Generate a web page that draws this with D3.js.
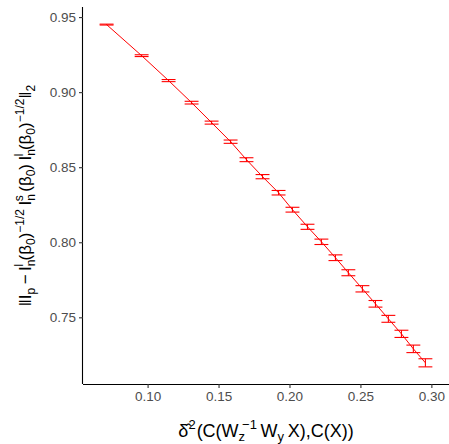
<!DOCTYPE html>
<html><head><meta charset="utf-8">
<script src="https://cdn.jsdelivr.net/npm/d3@7"></script>
<style>body{margin:0;background:#fff}svg{display:block;font-family:"Liberation Sans",Arial,sans-serif}</style>
</head><body><svg id="c" width="449" height="444"></svg>
<script>
const xValues = [0.0711,0.0958,0.1148,0.1310,0.1451,0.1585,0.1697,0.1810,0.1923,0.2021,0.2127,0.2225,0.2324,0.2415,0.2514,0.2606,0.2697,0.2789,0.2873,0.2958];
const yValues = [0.9450,0.9243,0.9077,0.8930,0.8797,0.8670,0.8550,0.8437,0.8330,0.8217,0.8103,0.8003,0.7897,0.7797,0.7690,0.7590,0.7490,0.7390,0.7290,0.7197];
const yErr = [0.0003,0.0006,0.0007,0.0009,0.0010,0.0011,0.0013,0.0014,0.0015,0.0016,0.0017,0.0018,0.0019,0.0020,0.0021,0.0022,0.0023,0.0024,0.0025,0.0027];
const xTicks = [0.10,0.15,0.20,0.25,0.30];
const yTicks = [0.75,0.80,0.85,0.90,0.95];

const data = xValues.map((x,i)=>({x, y:yValues[i], e:yErr[i]}));
const capHalf = 0.0049;
const svg = d3.select("#c");
const L=83, R=449, T=7, B=384;

const xmin = d3.min(data,d=>d.x-capHalf), xmax = d3.max(data,d=>d.x+capHalf);
const ymin = d3.min(data,d=>d.y-d.e), ymax = d3.max(data,d=>d.y+d.e);
const xs = d3.scaleLinear().domain([xmin-(xmax-xmin)*0.05, xmax+(xmax-xmin)*0.05]).range([L,R]);
const ys = d3.scaleLinear().domain([ymin-(ymax-ymin)*0.05, ymax+(ymax-ymin)*0.05]).range([B,T]);

const g = svg.append("g");
g.append("path").datum(data)
 .attr("d", d3.line().x(d=>xs(d.x)).y(d=>ys(d.y)))
 .attr("fill","none").attr("stroke","#ff0000").attr("stroke-width",1);
const eb = g.selectAll(".eb").data(data).enter().append("g").attr("stroke","#ff0000").attr("stroke-width",1.1);
eb.append("line").attr("x1",d=>xs(d.x)).attr("x2",d=>xs(d.x)).attr("y1",d=>ys(d.y-d.e)).attr("y2",d=>ys(d.y+d.e));
eb.append("line").attr("x1",d=>xs(d.x-capHalf)).attr("x2",d=>xs(d.x+capHalf)).attr("y1",d=>ys(d.y-d.e)).attr("y2",d=>ys(d.y-d.e));
eb.append("line").attr("x1",d=>xs(d.x-capHalf)).attr("x2",d=>xs(d.x+capHalf)).attr("y1",d=>ys(d.y+d.e)).attr("y2",d=>ys(d.y+d.e));

const xAxis = svg.append("g").attr("transform",`translate(0,${B})`)
 .call(d3.axisBottom(xs).tickValues(xTicks).tickFormat(d3.format(".2f")).tickSizeOuter(0).tickSize(4).tickPadding(3));
const yAxis = svg.append("g").attr("transform",`translate(${L},0)`)
 .call(d3.axisLeft(ys).tickValues(yTicks).tickFormat(d3.format(".2f")).tickSizeOuter(0).tickSize(4).tickPadding(3));
[xAxis,yAxis].forEach(a=>{
  a.select(".domain").attr("stroke","#000").attr("stroke-width",1.1);
  a.selectAll(".tick line").attr("stroke","#333").attr("stroke-width",1.1);
  a.selectAll(".tick text").attr("fill","#4d4d4d").style("font-size","13.5px").style("font-family","'Liberation Sans',Arial,sans-serif");
});
xAxis.select(".domain").attr("d",`M${L},0.5H${R}`);
yAxis.select(".domain").attr("d",`M-0.5,${T}V${B}`);

// x title
const xt = svg.append("text").attr("x",(L+R)/2).attr("y",437).attr("text-anchor","middle")
 .style("font-size","18px").attr("fill","#000");
xt.append("tspan").text("\u03B4\u0302");
xt.append("tspan").attr("dy",-8).style("font-size","13px").text("2");
xt.append("tspan").attr("dy",8).attr("dx",1).text("(C(W");
xt.append("tspan").attr("dy",4).style("font-size","13px").text("z");
xt.append("tspan").attr("dx",-3).attr("dy",-12).style("font-size","13px").text("\u22121");
xt.append("tspan").attr("dy",8).text("\u2009W");
xt.append("tspan").attr("dy",4).style("font-size","13px").text("y");
xt.append("tspan").attr("dy",-4).text("\u2009X),C(X))");

// y title
const yt = svg.append("text").attr("transform",`translate(31,${(T+B)/2}) rotate(-90)`).attr("text-anchor","middle")
 .style("font-size","17px").attr("fill","#000");
const parts = [
 ["\u2016I",0,17],["p",4,12],["\u2009\u2212\u2009I",-4,17],["n",4,12],["l",-12,12],["\u2009(\u03B2",8,17],["0",4,12],[")",-4,17],["\u22121/2",-7,12],
 ["\u2009I",7,17],["n",4,12],["s",-12,12],["\u2009(\u03B2",8,17],["0",4,12],[")",-4,17],
 ["\u2009I",0,17],["n",4,12],["l",-12,12],["\u2009(\u03B2",8,17],["0",4,12],[")",-4,17],["\u22121/2",-7,12],["\u2016",7,17],["2",4,12]
];
parts.forEach(([t,dy,fs])=>{
  const sp = yt.append("tspan").attr("dy",dy).style("font-size",fs+"px").text(t);
  if(t==="l"||t==="s") sp.attr("dx",-7);
});
</script></body></html>
